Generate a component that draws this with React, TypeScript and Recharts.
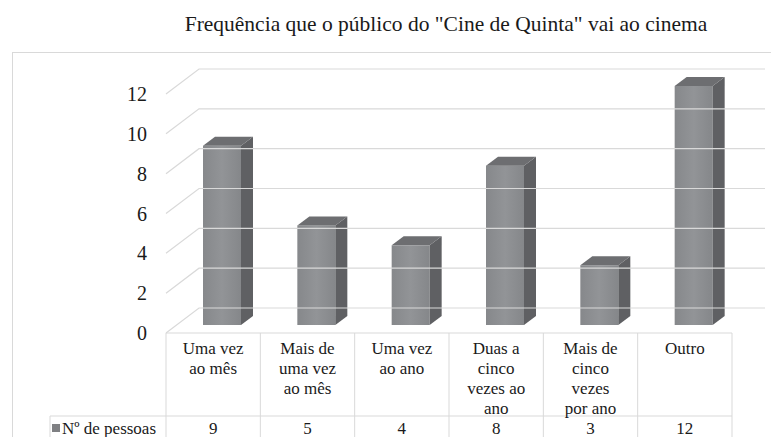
import { Bar, BarChart, XAxis, YAxis } from "recharts";

const categories = [
  ["Uma vez", "ao mês"],
  ["Mais de", "uma vez", "ao mês"],
  ["Uma vez", "ao ano"],
  ["Duas a", "cinco", "vezes ao", "ano"],
  ["Mais de", "cinco", "vezes", "por ano"],
  ["Outro"],
];
const pessoas = [9, 5, 4, 8, 3, 12];
const yTicks = [0, 2, 4, 6, 8, 10, 12];
const seriesName = "Nº de pessoas";

const data = categories.map((lines, i) => ({
  name: lines.join(" "),
  lines,
  value: pessoas[i],
}));

const W = 771;
const H = 437;
const PLOT_LEFT = 166;
const PLOT_RIGHT = 732;
const DEPTH_X = 33;
const DEPTH_Y = 25;
const FLOOR_FRONT = 8; // bar base sits this far behind the front edge
const BAR_DX = 12;
const BAR_DY = 9;
const FONT = "'Liberation Serif', 'Times New Roman', serif";
const GRID = "#d9d9d9";
const TEXT = "#1a1a1a";

function Bar3D(props: any) {
  const { x, y, width, height } = props;
  if (height == null || height <= 0) return null;
  const fx = x + 9;
  return (
    <g>
      <rect x={fx} y={y} width={width} height={height} fill="url(#barFront)" />
      <polygon
        points={`${fx + width},${y} ${fx + width + BAR_DX},${y - BAR_DY} ${fx + width + BAR_DX},${y + height - BAR_DY} ${fx + width},${y + height}`}
        fill="#5f6063"
      />
      <polygon
        points={`${fx},${y} ${fx + BAR_DX},${y - BAR_DY} ${fx + width + BAR_DX},${y - BAR_DY} ${fx + width},${y}`}
        fill="#6d6e71"
      />
    </g>
  );
}

function YTick(props: any) {
  const { y, payload } = props;
  const front = y + FLOOR_FRONT;
  const back = front - DEPTH_Y;
  return (
    <g>
      <polyline
        points={`${PLOT_LEFT},${front} ${PLOT_LEFT + DEPTH_X},${back} ${PLOT_RIGHT + DEPTH_X},${back}`}
        fill="none"
        stroke={GRID}
        strokeWidth={1.2}
      />
      <text
        x={147}
        y={front}
        textAnchor="end"
        dominantBaseline="central"
        fontFamily={FONT}
        fontSize={20}
        fill={TEXT}
      >
        {payload.value}
      </text>
    </g>
  );
}

function XTick(props: any) {
  const { x, payload, index } = props;
  const colW = (PLOT_RIGHT - PLOT_LEFT) / categories.length;
  const top = 333;
  const lines = categories[index] ?? [payload.value];
  return (
    <g>
      {lines.map((t: string, i: number) => (
        <text
          key={i}
          x={x}
          y={348 + i * 20}
          textAnchor="middle"
          dominantBaseline="central"
          fontFamily={FONT}
          fontSize={17}
          fill={TEXT}
        >
          {t}
        </text>
      ))}
      <text
        x={x}
        y={428}
        textAnchor="middle"
        dominantBaseline="central"
        fontFamily={FONT}
        fontSize={17}
        fill={TEXT}
      >
        {pessoas[index]}
      </text>
      <line x1={x + colW / 2} y1={top} x2={x + colW / 2} y2={H} stroke={GRID} />
      {index === 0 && <line x1={x - colW / 2} y1={top} x2={x - colW / 2} y2={H} stroke={GRID} />}
    </g>
  );
}

export default function App() {
  return (
    <div style={{ position: "absolute", left: 0, top: 0, width: W, height: H, background: "#fff", overflow: "hidden" }}>
      <div
        style={{
          position: "absolute",
          left: 12,
          top: 52,
          width: W,
          height: H,
          border: `1px solid ${GRID}`,
          boxSizing: "border-box",
        }}
      />
      <div
        style={{
          position: "absolute",
          left: 0,
          width: 892,
          top: 10,
          textAlign: "center",
          fontFamily: FONT,
          fontSize: 21.5,
          lineHeight: "28px",
          color: TEXT,
          whiteSpace: "nowrap",
        }}
      >
        Frequência que o público do "Cine de Quinta" vai ao cinema
      </div>
      <div style={{ position: "absolute", left: 0, top: 0 }}>
        <BarChart
          width={W}
          height={H}
          data={data}
          margin={{ top: 86, right: W - PLOT_RIGHT, left: 0, bottom: 0 }}
          barSize={38}
        >
          <defs>
            <linearGradient id="barFront" x1="0" y1="0" x2="1" y2="0">
              <stop offset="0%" stopColor="#86888b" />
              <stop offset="50%" stopColor="#929497" />
              <stop offset="100%" stopColor="#85878a" />
            </linearGradient>
          </defs>
          <YAxis
            width={PLOT_LEFT}
            domain={[0, 12]}
            ticks={yTicks}
            axisLine={false}
            tickLine={false}
            tick={<YTick />}
            interval={0}
          />
          <XAxis
            dataKey="name"
            height={H - 325}
            axisLine={false}
            tickLine={false}
            tick={<XTick />}
            interval={0}
          />
          <Bar dataKey="value" shape={<Bar3D />} isAnimationActive={false} />
          <line x1={PLOT_LEFT} y1={333} x2={PLOT_RIGHT} y2={333} stroke={GRID} strokeWidth={1.2} />
          <line x1={50} y1={416} x2={PLOT_RIGHT} y2={416} stroke={GRID} />
          <line x1={50} y1={416} x2={50} y2={H} stroke={GRID} />
          <rect x={52} y={424} width={8} height={8} fill="#7f8083" />
          <text x={62} y={428} dominantBaseline="central" fontFamily={FONT} fontSize={17} fill={TEXT}>
            {seriesName}
          </text>
        </BarChart>
      </div>
    </div>
  );
}
